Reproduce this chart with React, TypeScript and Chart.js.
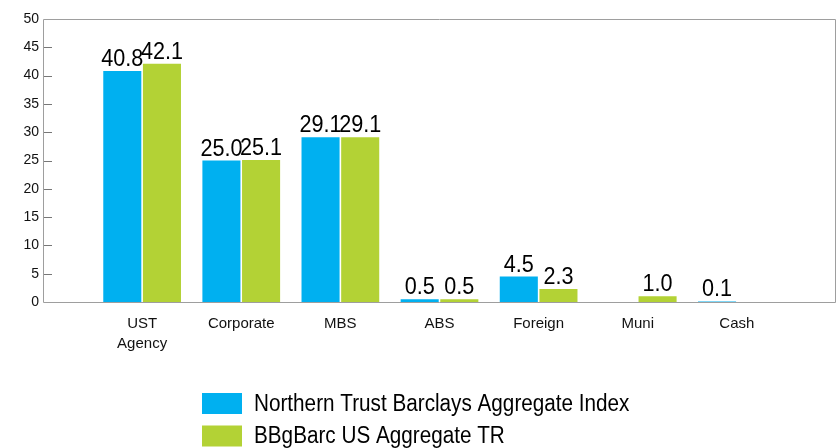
import React, { useEffect, useRef } from "react";
import { Chart, registerables } from "chart.js";

Chart.register(...registerables);

const categories: (string | string[])[] = [["UST", "Agency"], "Corporate", "MBS", "ABS", "Foreign", "Muni", "Cash"];
const northernTrust: (number | null)[] = [40.8, 25.0, 29.1, 0.5, 4.5, null, 0.1];
const bbgBarc: (number | null)[] = [42.1, 25.1, 29.1, 0.5, 2.3, 1.0, null];
const seriesNames = ["Northern Trust Barclays Aggregate Index", "BBgBarc US Aggregate TR"];
const seriesColors = ["#00B0F0", "#B3D235"];
const yTicks = [0, 5, 10, 15, 20, 25, 30, 35, 40, 45, 50];

const SANS = '"Liberation Sans", Arial, sans-serif';
const CONDENSE = 0.9;

function drawCondensed(ctx: CanvasRenderingContext2D, text: string, x: number, y: number, align: "left" | "center") {
  const w = ctx.measureText(text).width * CONDENSE;
  const startX = align === "center" ? x - w / 2 : x;
  ctx.save();
  ctx.translate(startX, y);
  ctx.scale(CONDENSE, 1);
  ctx.textAlign = "left";
  ctx.fillText(text, 0, 0);
  ctx.restore();
}

const labelPlugin = {
  id: "valueLabels",
  afterDatasetsDraw(chart: any) {
    const ctx = chart.ctx;
    ctx.save();
    ctx.font = `24px ${SANS}`;
    ctx.fillStyle = "#000";
    ctx.textBaseline = "alphabetic";
    chart.data.datasets.forEach((ds: any, di: number) => {
      const meta = chart.getDatasetMeta(di);
      meta.data.forEach((el: any, i: number) => {
        const v = ds.data[i];
        if (v === null || v === undefined) return;
        drawCondensed(ctx, Number(v).toFixed(1), el.x, el.y - 5, "center");
      });
    });
    ctx.restore();
  },
};

const framePlugin = {
  id: "frame",
  beforeDatasetsDraw(chart: any) {
    const { ctx, chartArea: a } = chart;
    const ys = chart.scales.y;
    ctx.save();
    ctx.strokeStyle = "#9e9e9e";
    ctx.lineWidth = 1;
    ctx.beginPath();
    ctx.moveTo(a.left + 0.5, a.bottom + 0.5);
    ctx.lineTo(a.left + 0.5, a.top + 0.5);
    ctx.lineTo(a.right - 0.5, a.top + 0.5);
    ctx.lineTo(a.right - 0.5, a.bottom + 0.5);
    ctx.lineTo(a.left + 0.5, a.bottom + 0.5);
    ctx.stroke();
    ctx.strokeStyle = "#777";
    ctx.beginPath();
    yTicks.forEach((v) => {
      if (v === 0 || v === 50) return;
      const py = Math.round(ys.getPixelForValue(v)) + 0.5;
      ctx.moveTo(a.left + 1, py);
      ctx.lineTo(a.left + 9, py);
    });
    ctx.stroke();
    ctx.restore();
  },
};

const legendPlugin = {
  id: "customLegend",
  afterDraw(chart: any) {
    const ctx = chart.ctx;
    ctx.save();
    ctx.font = `23px ${SANS}`;
    const boxW = 40, boxH = 21, gap = 12;
    const maxText = Math.max(...seriesNames.map((n) => ctx.measureText(n).width * CONDENSE));
    const total = boxW + gap + maxText;
    const left = Math.round((chart.width - total) / 2) - 3;
    const centers = [chart.height - 44.5, chart.height - 12];
    seriesNames.forEach((name, i) => {
      const cy = centers[i];
      ctx.fillStyle = seriesColors[i];
      ctx.fillRect(left, cy - boxH / 2, boxW, boxH);
      ctx.fillStyle = "#000";
      ctx.textBaseline = "middle";
      drawCondensed(ctx, name, left + boxW + gap, cy + 1, "left");
    });
    ctx.restore();
  },
};

export default function App() {
  const ref = useRef<HTMLCanvasElement | null>(null);
  useEffect(() => {
    if (!ref.current) return;
    const labels = ["", ...categories, ""];
    const chart = new Chart(ref.current, {
      type: "bar",
      data: {
        labels,
        datasets: [
          {
            label: seriesNames[0],
            data: [null, ...northernTrust, null],
            backgroundColor: seriesColors[0],
            categoryPercentage: 0.8,
            barPercentage: 0.96,
          },
          {
            label: seriesNames[1],
            data: [null, ...bbgBarc, null],
            backgroundColor: seriesColors[1],
            categoryPercentage: 0.8,
            barPercentage: 0.96,
          },
        ],
      },
      options: {
        animation: false,
        responsive: false,
        maintainAspectRatio: false,
        layout: { padding: { top: 19, right: 2, left: 0, bottom: 0 } },
        plugins: {
          legend: { display: false },
          tooltip: { enabled: false },
        },
        scales: {
          x: {
            type: "category",
            offset: false,
            grid: { display: true, drawOnChartArea: false, drawTicks: true, tickLength: 12, color: "rgba(0,0,0,0)" },
            border: { display: false },
            ticks: {
              color: "#111",
              font: { family: SANS, size: 15, lineHeight: 1.33 },
              padding: 0,
              maxRotation: 0,
              autoSkip: false,
            },
            afterFit: (s: any) => {
              s.height = 146;
            },
          },
          y: {
            min: 0,
            max: 50,
            afterBuildTicks: (s: any) => {
              s.ticks = yTicks.map((v) => ({ value: v }));
            },
            grid: { display: false },
            border: { display: false },
            ticks: {
              color: "#111",
              font: { family: SANS, size: 14 },
              padding: -4,
            },
            afterFit: (s: any) => {
              s.width = 43;
            },
          },
        },
      },
      plugins: [framePlugin, labelPlugin, legendPlugin],
    });
    return () => chart.destroy();
  }, []);
  return (
    <div style={{ position: "absolute", left: 0, top: 0, width: 838, height: 448, background: "#fff" }}>
      <canvas ref={ref} width={838} height={448} style={{ display: "block" }} />
    </div>
  );
}
